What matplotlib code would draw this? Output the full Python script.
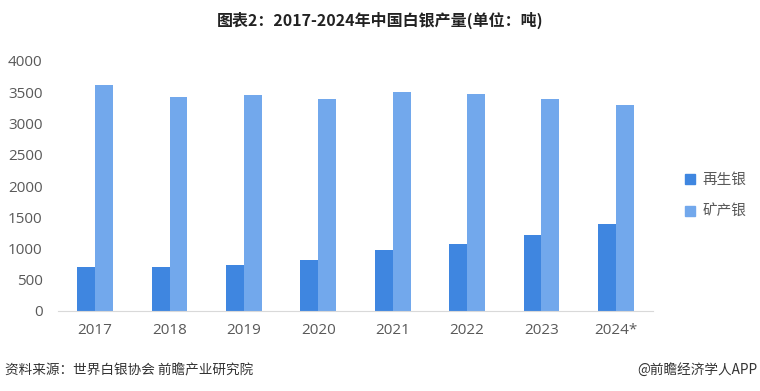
import numpy as np
import matplotlib.pyplot as plt
from matplotlib.patches import Patch

plt.rcParams['font.family'] = ['Noto Sans CJK SC', 'DejaVu Sans']

years = ['2017', '2018', '2019', '2020', '2021', '2022', '2023', '2024*']
recycled = [700, 710, 735, 810, 975, 1080, 1215, 1400]   # 再生银
mined = [3610, 3430, 3460, 3400, 3500, 3470, 3390, 3300]  # 矿产银
yticks = [0, 500, 1000, 1500, 2000, 2500, 3000, 3500, 4000]

dark = '#3f86e0'
light = '#72a8ec'
grey = '#595959'

fig = plt.figure(figsize=(7.6, 3.91), dpi=100)
ax = fig.add_axes([58 / 760, 1 - 311 / 391, 595 / 760, 250 / 391])

x = np.arange(len(years))
w = 0.24
ax.bar(x - w / 2, recycled, w, color=dark, label='再生银')
ax.bar(x + w / 2, mined, w, color=light, label='矿产银')

ax.set_xlim(-0.5, len(years) - 0.5)
ax.set_ylim(0, 4000)
ax.set_yticks(yticks)
ax.set_xticks(x)
ax.set_xticklabels(years)
for lab in ax.get_xticklabels() + ax.get_yticklabels():
    lab.set_family(['Open Sans', 'DejaVu Sans'])
    lab.set_fontsize(11)
    lab.set_color(grey)
ax.tick_params(length=0)
ax.tick_params(axis='x', pad=9)
ax.tick_params(axis='y', pad=11)
for s in ['top', 'right', 'left']:
    ax.spines[s].set_visible(False)
ax.spines['bottom'].set_color('#d9d9d9')

handles = [Patch(color=dark), Patch(color=light)]
fig.legend(handles, ['再生银', '矿产银'], loc='center left',
           bbox_to_anchor=(672 / 760, 1 - 196 / 391), frameon=False,
           fontsize=10.5, handlelength=0.7, handleheight=0.7,
           handletextpad=0.5, labelspacing=1.2, labelcolor=grey)

fig.text(0.5, 1 - 20 / 391, '图表2：2017-2024年中国白银产量(单位：吨)',
         ha='center', va='center', fontsize=11.5, fontweight='bold',
         color='#222222')
fig.text(5 / 760, 1 - 370 / 391, '资料来源：世界白银协会 前瞻产业研究院',
         ha='left', va='center', fontsize=9.8, color='#333333')
fig.text(757 / 760, 1 - 370 / 391, '@前瞻经济学人APP',
         ha='right', va='center', fontsize=9.8, color='#333333')

fig.savefig('out.png', dpi=100)
